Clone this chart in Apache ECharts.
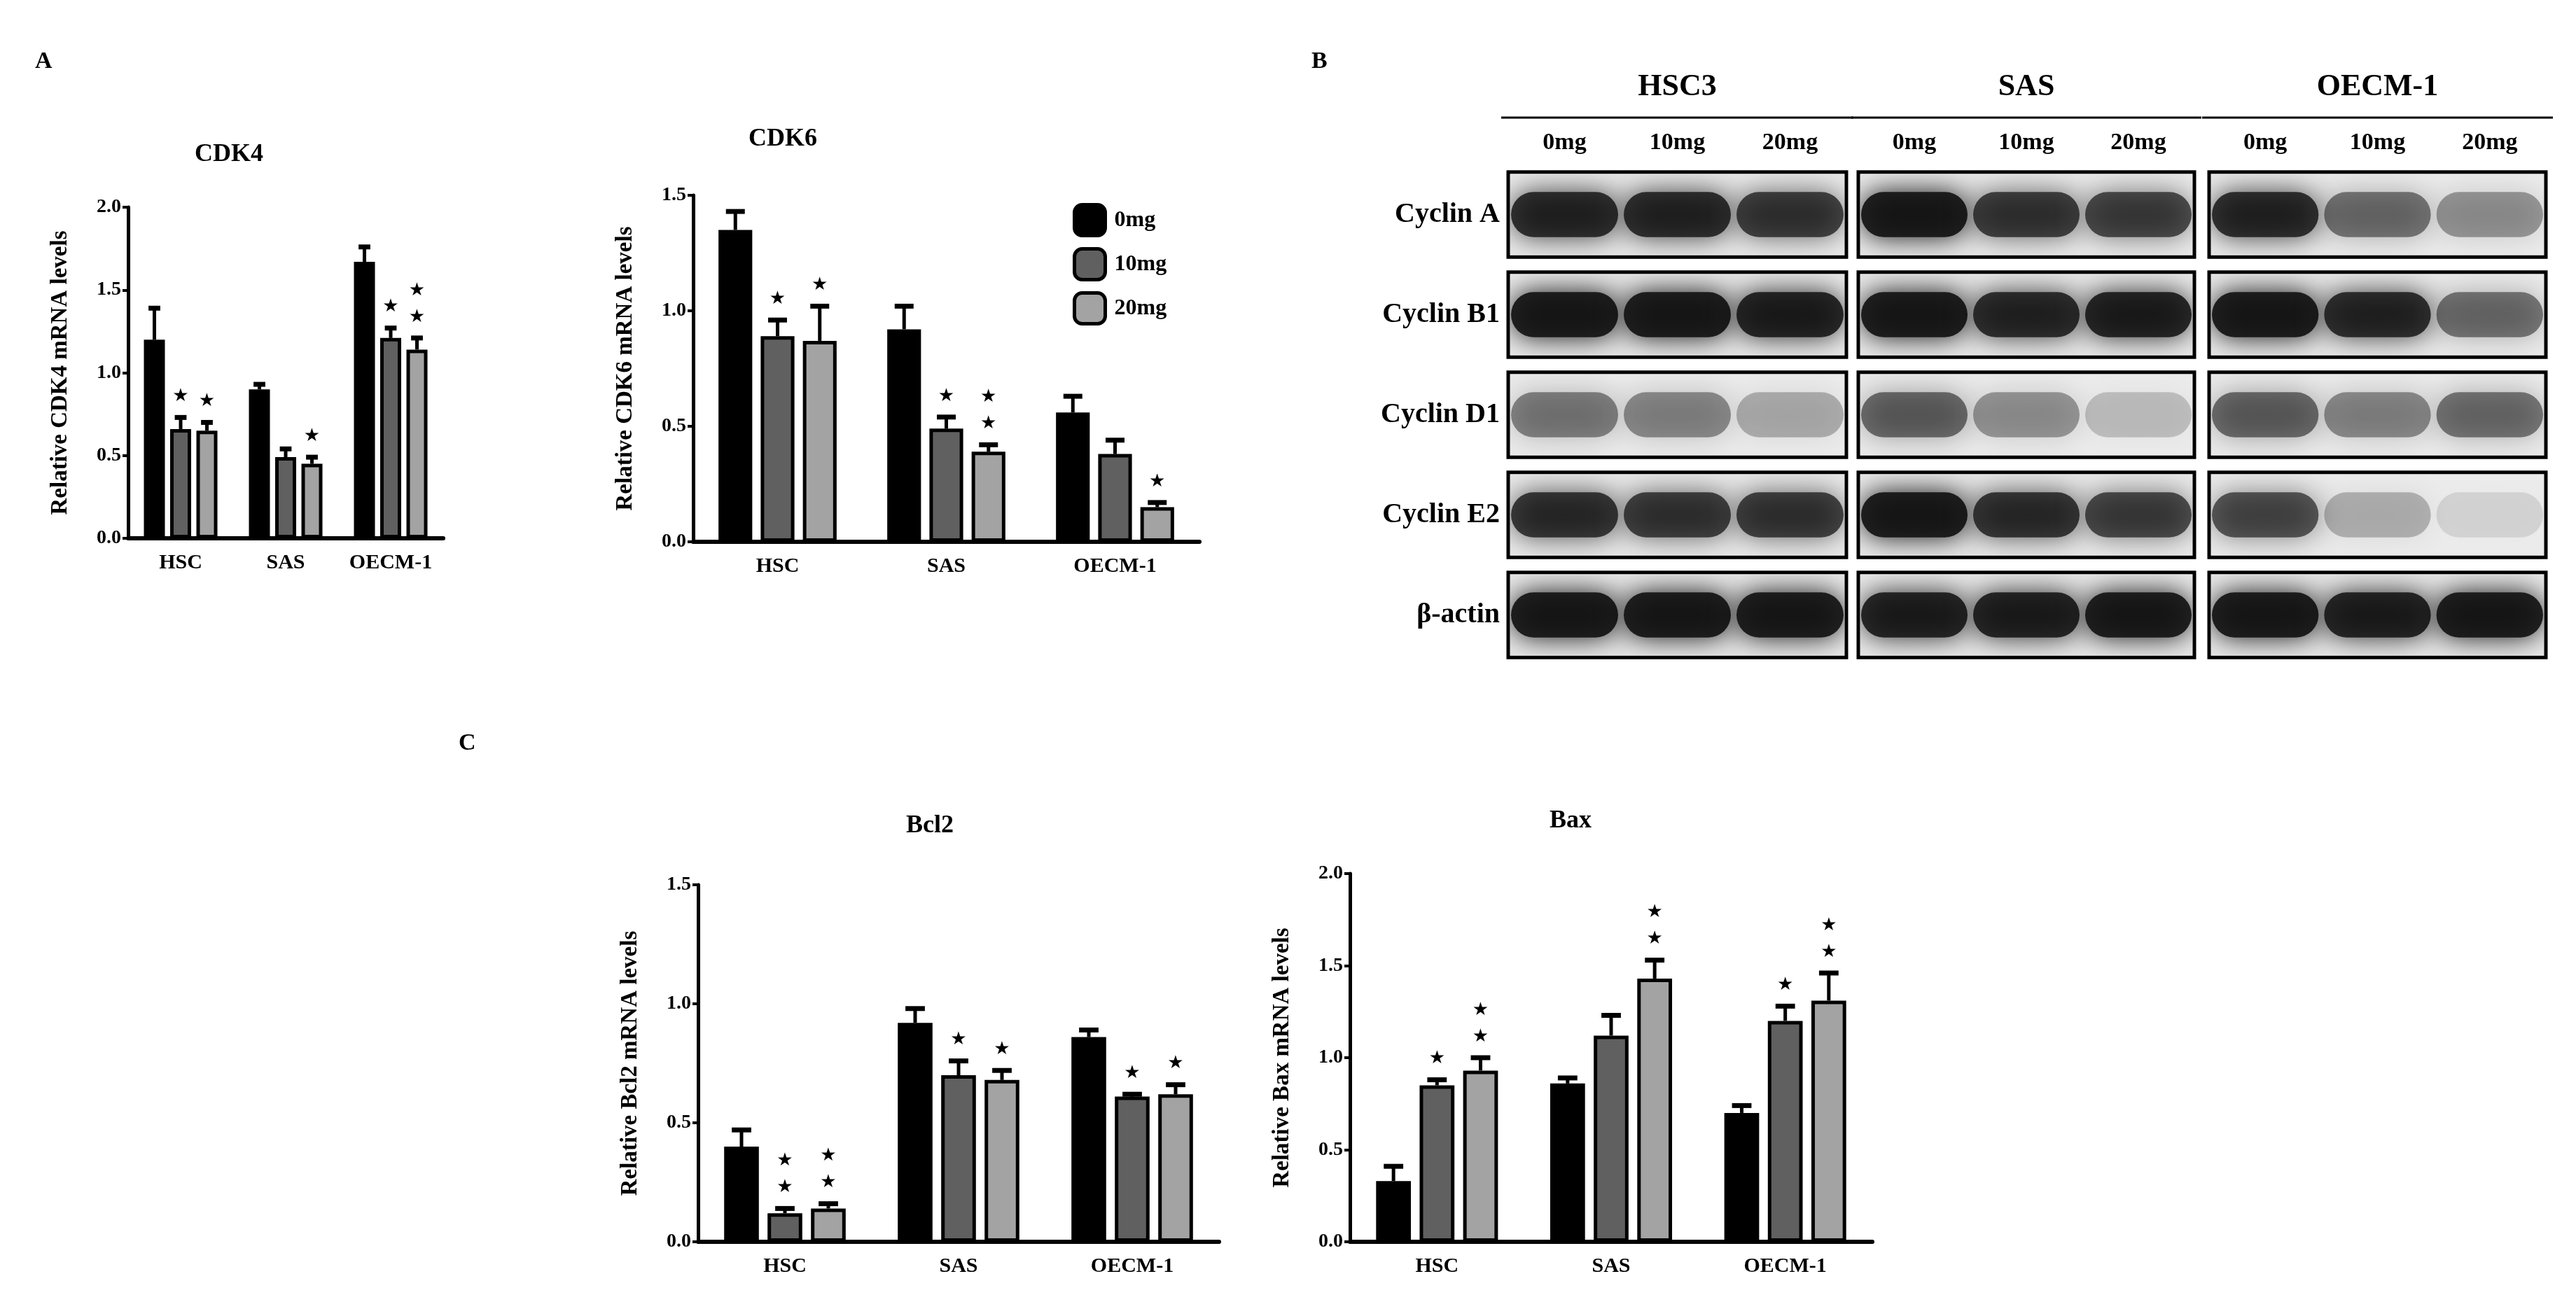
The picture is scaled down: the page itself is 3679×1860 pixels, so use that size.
<!DOCTYPE html>
<html><head><meta charset="utf-8">
<script src="https://cdn.jsdelivr.net/npm/echarts@6/dist/echarts.min.js"></script>
<style>html,body{margin:0;padding:0;background:#fff}#c{width:3679px;height:1860px}</style>
</head><body><div id="c"></div>
<script>
const groups = ['HSC','SAS','OECM-1'];
const doses = ['0mg','10mg','20mg'];
const doseColors = ['#000000','#606060','#a3a3a3'];
// values[dose][group]
const cdk4Val = [[1.20,0.90,1.67],[0.66,0.49,1.21],[0.65,0.45,1.14]];
const cdk4Err = [[0.19,0.03,0.09],[0.07,0.05,0.06],[0.05,0.04,0.07]];
const cdk4Star = [[0,0,0],[1,0,1],[1,1,2]];
const cdk6Val = [[1.35,0.92,0.56],[0.89,0.49,0.38],[0.87,0.39,0.15]];
const cdk6Err = [[0.08,0.10,0.07],[0.07,0.05,0.06],[0.15,0.03,0.02]];
const cdk6Star = [[0,0,0],[1,1,0],[1,2,1]];
const bcl2Val = [[0.40,0.92,0.86],[0.12,0.70,0.61],[0.14,0.68,0.62]];
const bcl2Err = [[0.07,0.06,0.03],[0.02,0.06,0.01],[0.02,0.04,0.04]];
const bcl2Star = [[0,0,0],[2,1,1],[2,1,1]];
const baxVal = [[0.33,0.86,0.70],[0.85,1.12,1.20],[0.93,1.43,1.31]];
const baxErr = [[0.08,0.03,0.04],[0.03,0.11,0.08],[0.07,0.10,0.15]];
const baxStar = [[0,0,0],[1,0,1],[2,2,2]];

const cellLines = ['HSC3','SAS','OECM-1'];
const proteins = ['Cyclin A','Cyclin B1','Cyclin D1','Cyclin E2','β-actin'];
// band intensity [cellLine][protein][lane]
const bands = [
 [[0.9,0.9,0.8],[1,1,0.95],[0.5,0.45,0.3],[0.85,0.8,0.8],[1,1,1]],
 [[1,0.8,0.75],[1,0.9,0.95],[0.6,0.4,0.22],[1,0.85,0.75],[0.95,0.95,1]],
 [[0.9,0.55,0.4],[1,0.9,0.55],[0.6,0.45,0.55],[0.7,0.28,0.12],[1,0.95,1]]
];

const FONT = '"Liberation Serif","DejaVu Serif",serif';
const chart = echarts.init(document.getElementById('c'));
const grids=[], xAxes=[], yAxes=[], series=[], titles=[], graphics=[];

function barChart(g, vals, errs, stars, ymax, interval, yname, title, titlePos){
  const gi = grids.length;
  grids.push(g);
  xAxes.push({gridIndex:gi,type:'category',data:groups,
    axisLine:{lineStyle:{color:'#000',width:6}},
    axisTick:{alignWithLabel:true,length:14,lineStyle:{color:'#000',width:5}},
    axisLabel:{interval:0,color:'#000',fontFamily:FONT,fontWeight:'bold',fontSize:30,margin:20}});
  yAxes.push({gridIndex:gi,type:'value',min:0,max:ymax,interval:interval,
    name:yname,nameLocation:'middle',nameGap:80,nameRotate:90,
    nameTextStyle:{color:'#000',fontFamily:FONT,fontWeight:'bold',fontSize:33},
    splitLine:{show:false},
    axisLine:{show:true,lineStyle:{color:'#000',width:5}},
    axisTick:{show:true,length:8,lineStyle:{color:'#000',width:4}},
    axisLabel:{color:'#000',fontFamily:FONT,fontWeight:'bold',fontSize:28,margin:10,
      formatter:v=>v.toFixed(1)}});
  for(let d=0;d<3;d++){
    series.push({type:'bar',name:doses[d],xAxisIndex:gi,yAxisIndex:gi,data:vals[d],
      barWidth:'20%',barGap:'25%',
      itemStyle:{color:doseColors[d],borderColor:'#000',borderWidth:5}});
  }
  const edata=[];
  for(let d=0;d<3;d++)for(let c=0;c<3;c++)edata.push([c,vals[d][c],errs[d][c],d,stars[d][c]]);
  series.push({type:'custom',xAxisIndex:gi,yAxisIndex:gi,data:edata,z:1,silent:true,
    renderItem:(params,api)=>{
      const c=api.value(0),v=api.value(1),e=api.value(2),d=api.value(3),s=api.value(4);
      const bw=api.size([1,0])[0], w=bw*0.2;
      const p0=api.coord([c,v]), p1=api.coord([c,v+e]);
      const x=p0[0]+(d-1)*w*1.25;
      const ch=[
        {type:'line',shape:{x1:x,y1:p0[1],x2:x,y2:p1[1]},style:{stroke:'#000',lineWidth:5}},
        {type:'line',shape:{x1:x-w*0.28,y1:p1[1],x2:x+w*0.28,y2:p1[1]},style:{stroke:'#000',lineWidth:7}}
      ];
      for(let k=0;k<s;k++){
        ch.push({type:'text',style:{text:'★',x:x,y:p1[1]-30-k*38,align:'center',verticalAlign:'middle',
          fontSize:26,fill:'#000',fontFamily:'DejaVu Sans'}});
      }
      return {type:'group',children:ch};
    }});
  titles.push({text:title,left:titlePos[0],top:titlePos[1],textAlign:'center',
    textStyle:{fontFamily:FONT,fontWeight:'bold',fontSize:36,color:'#000'}});
}

barChart({left:183,top:296,width:450,height:473},cdk4Val,cdk4Err,cdk4Star,2.0,0.5,'Relative CDK4 mRNA levels','CDK4',[322,198]);
barChart({left:990,top:279,width:723,height:495},cdk6Val,cdk6Err,cdk6Star,1.5,0.5,'Relative CDK6 mRNA levels','CDK6',[1113,176]);
barChart({left:997,top:1264,width:744,height:510},bcl2Val,bcl2Err,bcl2Star,1.5,0.5,'Relative Bcl2 mRNA levels','Bcl2',[1323,1157]);
barChart({left:1928,top:1248,width:746,height:526},baxVal,baxErr,baxStar,2.0,0.5,'Relative Bax mRNA levels','Bax',[2238,1150]);

// Western blot panel
const boxes=[[2154,483],[2654,480],[3155,481]];
for(let b=0;b<3;b++){
  const gi=grids.length;
  grids.push({left:boxes[b][0],top:235,width:boxes[b][1],height:715});
  xAxes.push({gridIndex:gi,type:'category',data:doses,position:'top',
    axisLine:{show:false},axisTick:{show:false},
    axisLabel:{color:'#000',fontFamily:FONT,fontWeight:'bold',fontSize:34,margin:14}});
  yAxes.push({gridIndex:gi,type:'category',data:proteins,inverse:true,
    axisLine:{show:false},axisTick:{show:false},
    axisLabel:{show:b===0,color:'#000',fontFamily:FONT,fontWeight:'bold',fontSize:40,margin:12}});
  const fdata=proteins.map((p,i)=>[1,i]);
  series.push({type:'custom',xAxisIndex:gi,yAxisIndex:gi,data:fdata,silent:true,z:1,
    renderItem:(params,api)=>{
      const p=api.coord([1,api.value(1)]);
      const W=params.coordSys.width, h=api.size([0,1])[1]*0.85;
      return {type:'rect',shape:{x:params.coordSys.x,y:p[1]-h/2,width:W,height:h},
        style:{fill:'#ebebeb',stroke:'#000',lineWidth:5}};
    }});
  const bdata=[];
  for(let r=0;r<5;r++)for(let l=0;l<3;l++)bdata.push([l,r,bands[b][r][l]]);
  series.push({type:'custom',xAxisIndex:gi,yAxisIndex:gi,data:bdata,silent:true,z:2,
    renderItem:(params,api)=>{
      const p=api.coord([api.value(0),api.value(1)]);
      const bw=api.size([1,0])[0]*0.95, h=api.size([0,1])[1]*0.45, a=api.value(2);
      const clip={x:params.coordSys.x+3,y:p[1]-api.size([0,1])[1]*0.42+3,
        width:params.coordSys.width-6,height:api.size([0,1])[1]*0.84-6};
      return {type:'group',clipPath:{type:'rect',shape:clip},children:[
        {type:'rect',shape:{x:p[0]-bw/2,y:p[1]-h/2,width:bw,height:h,r:h/2},
        style:{fill:'rgba(20,20,20,'+(a*0.92)+')',shadowBlur:40,shadowColor:'rgba(0,0,0,'+a+')'}}]};
    }});
  const cx=boxes[b][0]+boxes[b][1]/2;
  graphics.push({type:'text',x:cx,y:125,style:{text:cellLines[b],align:'center',verticalAlign:'middle',
    font:'bold 44px '+FONT,fill:'#000'}});
  graphics.push({type:'line',shape:{x1:boxes[b][0]-10,y1:168,x2:boxes[b][0]+boxes[b][1]+10,y2:168},
    style:{stroke:'#000',lineWidth:3}});
}
graphics.push({type:'text',x:50,y:88,style:{text:'A',font:'bold 34px '+FONT,fill:'#000',verticalAlign:'middle'}});
graphics.push({type:'text',x:1873,y:88,style:{text:'B',font:'bold 34px '+FONT,fill:'#000',verticalAlign:'middle'}});
graphics.push({type:'text',x:655,y:1062,style:{text:'C',font:'bold 34px '+FONT,fill:'#000',verticalAlign:'middle'}});

chart.setOption({
  animation:false,
  backgroundColor:'#fff',
  title:titles,
  legend:{data:doses,orient:'vertical',left:1527,top:285,itemWidth:44,itemHeight:44,itemGap:14,
    textStyle:{fontFamily:FONT,fontWeight:'bold',fontSize:32,color:'#000',padding:[0,0,0,8]},
    itemStyle:{borderColor:'#000',borderWidth:5}},
  grid:grids,xAxis:xAxes,yAxis:yAxes,series:series,graphic:graphics
});
</script></body></html>
